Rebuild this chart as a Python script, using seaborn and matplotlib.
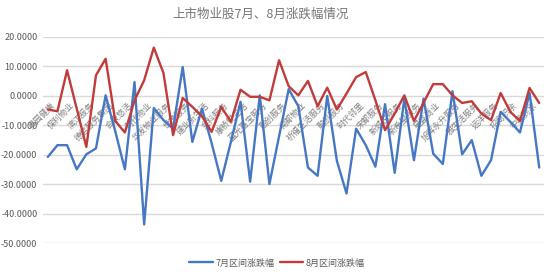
import matplotlib
matplotlib.use("Agg")
import matplotlib.pyplot as plt
from matplotlib.lines import Line2D
import seaborn as sns
import pandas as pd

title = "上市物业股7月、8月涨跌幅情况"
series_names = ["7月区间涨跌幅", "8月区间涨跌幅"]

# category labels that are visible (every second category)
labels_shown = [
    "奥园健康", "保利物业", "滨江服务", "德信服务集团", "合景悠活", "时代物业",
    "华发物业服务", "世茂服务", "建业新生活", "金科服务", "康桥悦生活", "蓝光嘉宝服务",
    "融创服务", "南都物业", "祈福生活服务", "融创服务", "时代邻里", "宋都服务",
    "新城悦服务", "新希望服务", "星盛商业", "旭辉永升服务", "雅生活服务", "远洋服务",
    "招商积余", "中奥到家",
]

jul = [-20.7, -16.7, -16.7, -24.9, -19.8, -17.8, 0.2, -12.0, -24.9, 4.7,
       -43.6, -4.1, -8.2, -11.1, 9.8, -15.6, -4.3, -16.0, -28.8, -15.6,
       -2.0, -29.1, 0.2, -29.9, -13.7, 2.3, -3.5, -24.3, -27.1, 0.0,
       -22.0, -33.1, -11.1, -16.7, -24.0, -2.8, -26.1, -0.9, -21.8, -0.9,
       -19.6, -23.1, 1.6, -19.8, -15.0, -27.1, -21.8, -5.4, -8.8, -12.4,
       1.0, -24.3]
aug = [-4.6, -5.2, 8.7, -4.3, -17.3, 7.0, 12.6, -8.5, -12.4, -1.5,
       5.3, 16.4, 7.8, -13.3, -0.7, -3.7, -6.9, -12.2, -3.7, -8.8,
       2.1, -0.3, -0.3, -1.5, 12.1, 3.3, 0.2, 5.1, -3.5, 2.8,
       -4.6, 0.8, 6.4, 8.1, -1.5, -11.6, -6.0, 0.2, -8.5, -2.3,
       4.0, 4.0, 0.2, -2.4, -1.8, -6.0, -8.2, 1.0, -5.4, -8.5,
       2.7, -2.4]

yticks = [-50, -40, -30, -20, -10, 0, 10, 20]
colors = ["#4677c4", "#c23b3b"]

sns.set_theme(style="white")
plt.rcParams['font.family'] = ['Noto Sans CJK SC', 'DejaVu Sans']

n = len(jul)
df = pd.DataFrame({
    "x": list(range(n)) * 2,
    "v": jul + aug,
    "s": [series_names[0]] * n + [series_names[1]] * n,
})

fig = plt.figure(figsize=(5.54, 2.76), dpi=100)
ax = fig.add_axes([0.0776, 0.1185, 0.9044, 0.7475])
sns.lineplot(data=df, x="x", y="v", hue="s", palette=colors, linewidth=1.7,
             ax=ax, legend=False, zorder=3)
ax.set_xlim(-0.5, n - 0.5)
ax.set_ylim(-50, 20)
ax.set_yticks(yticks)
ax.set_yticklabels([f"{v:.4f}" for v in yticks])
ax.set_xticks([])
ax.set_xlabel("")
ax.set_ylabel("")
ax.set_axisbelow(True)
ax.yaxis.grid(True, color="#d9d9d9", lw=1.0)
for sp in ax.spines.values():
    sp.set_visible(False)
ax.tick_params(axis="y", length=0, labelsize=6.5, labelcolor="#595959", pad=4)

for i, lab in enumerate(labels_shown):
    ax.text(2 * i + 0.3, -1.5, lab, rotation=45, rotation_mode="anchor",
            ha="right", va="top", fontsize=6, color="#7f7f7f", zorder=1)

fig.text(0.471, 0.949, title, ha="center", va="center", fontsize=9, color="#767676")

handles = [Line2D([0], [0], color=c, lw=1.7) for c in colors]
fig.legend(handles, series_names, loc="center", bbox_to_anchor=(0.5, 0.047),
           ncol=2, frameon=False, fontsize=6.5, handlelength=2.6,
           columnspacing=0.6, handletextpad=0.3, labelcolor="#595959")

fig.savefig("out.png", dpi=100)
